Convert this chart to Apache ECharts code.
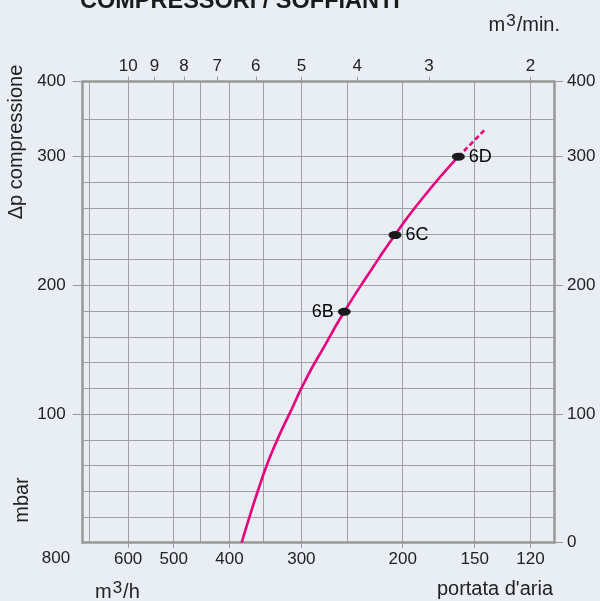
<!DOCTYPE html>
<html>
<head>
<meta charset="utf-8">
<script src="https://cdn.jsdelivr.net/npm/echarts@6/dist/echarts.min.js"></script>
<style>
html,body{margin:0;padding:0;background:#e9eef5;}
#chart{width:600px;height:601px;}
</style>
</head>
<body>
<div id="chart"></div>
<script>
// ---- data ----
const GRID_FLOW = [700, 600, 500, 450, 400, 350, 300, 250, 200, 150, 120];   // m3/h grid lines
const FLOW_TICKS = [600, 500, 400, 300, 200, 150, 120];                       // m3/h labels
const MIN_TICKS = [10, 9, 8, 7, 6, 5, 4, 3, 2];                               // m3/min labels
const CURVE_FLOW = [381, 368.4, 355.8, 343.5, 329.5, 313.8, 295.1, 272.9, 252.7, 228.9, 206.3, 184.8, 160.1];
const CURVE_P    = [0,   21.5,  42.3,  61.7,  81.1,  101.3, 126.4, 153.6, 179.5, 209.4, 239.1, 267.7, 300];
const DASH_FLOW = [160.1, 144.4];
const DASH_P    = [300, 335];
const POINT_NAMES = ['6B', '6C', '6D'];
const POINT_FLOW  = [252.7, 206.3, 160.1];
const POINT_P     = [179.5, 239.1, 300];
const FLOW_MIN = 109.2, FLOW_MAX = 719.6;

const FONT = "'Liberation Sans', Arial, Helvetica, sans-serif";
const TXT = '#222222';
const GRIDC = '#a0a0a0';
const BORDER = '#989898';
const PINK = '#e6007e';

const chart = echarts.init(document.getElementById('chart'), null, {renderer: 'canvas'});

const lab = (extra) => Object.assign({color: TXT, fontSize: 17, fontFamily: FONT}, extra || {});

const option = {
  backgroundColor: '#e9eef5',
  animation: false,
  grid: [
    {left: 82.7, right: 46, top: 156.7, bottom: 58.3},
    {left: 82.7, right: 46, top: 81.7, height: 75}
  ],
  xAxis: [
    { // 0: lower grid, vertical grid lines + bottom border
      gridIndex: 0, type: 'log', logBase: 10, inverse: true, min: FLOW_MIN, max: FLOW_MAX,
      position: 'bottom',
      axisLine: {show: true, lineStyle: {color: BORDER, width: 2.5}},
      axisTick: {show: false, customValues: GRID_FLOW},
      axisLabel: {show: false},
      splitLine: {show: true, lineStyle: {color: GRIDC, width: 1}}
    },
    { // 1: lower grid, m3/h labels
      gridIndex: 0, type: 'log', logBase: 10, inverse: true, min: FLOW_MIN, max: FLOW_MAX,
      position: 'bottom',
      axisLine: {show: false},
      axisTick: {show: true, inside: false, length: 5, customValues: FLOW_TICKS, lineStyle: {color: BORDER, width: 1}},
      axisLabel: lab({customValues: FLOW_TICKS, margin: 8}),
      splitLine: {show: false}
    },
    { // 2: upper grid, vertical lines + top border
      gridIndex: 1, type: 'log', logBase: 10, inverse: true, min: FLOW_MIN, max: FLOW_MAX,
      position: 'top',
      axisLine: {show: true, lineStyle: {color: BORDER, width: 2.5}},
      axisTick: {show: false, customValues: GRID_FLOW},
      axisLabel: {show: false},
      splitLine: {show: true, lineStyle: {color: GRIDC, width: 1}}
    },
    { // 3: upper grid, m3/min labels
      gridIndex: 1, type: 'log', logBase: 10, inverse: true, min: FLOW_MIN / 60, max: FLOW_MAX / 60,
      position: 'top',
      axisLine: {show: false},
      axisTick: {show: true, length: 5, customValues: MIN_TICKS, lineStyle: {color: BORDER, width: 1}},
      axisLabel: lab({customValues: MIN_TICKS, margin: 7}),
      splitLine: {show: false}
    }
  ],
  yAxis: [
    { // 0: lower grid lines, left border
      gridIndex: 0, type: 'value', min: 0, max: 300, interval: 20, position: 'left',
      axisLine: {show: true, lineStyle: {color: BORDER, width: 2.5}},
      axisTick: {show: false}, axisLabel: {show: false},
      splitLine: {show: true, lineStyle: {color: GRIDC, width: 1}}
    },
    { // 1: lower left labels
      gridIndex: 0, type: 'value', min: 0, max: 300, interval: 100, position: 'left',
      axisLine: {show: false},
      axisTick: {show: true, length: 10, lineStyle: {color: BORDER, width: 1}},
      axisLabel: lab({margin: 17, showMinLabel: false}),
      splitLine: {show: false}
    },
    { // 2: lower right border + labels
      gridIndex: 0, type: 'value', min: 0, max: 300, interval: 100, position: 'right',
      axisLine: {show: true, lineStyle: {color: BORDER, width: 2.5}},
      axisTick: {show: true, length: 9, lineStyle: {color: BORDER, width: 1}},
      axisLabel: lab({margin: 13}),
      splitLine: {show: false}
    },
    { // 3: upper grid lines, left border
      gridIndex: 1, type: 'value', min: 300, max: 400, interval: 50, position: 'left',
      axisLine: {show: true, lineStyle: {color: BORDER, width: 2.5}},
      axisTick: {show: false}, axisLabel: {show: false},
      splitLine: {show: true, lineStyle: {color: GRIDC, width: 1}}
    },
    { // 4: upper left label
      gridIndex: 1, type: 'value', min: 300, max: 400, interval: 100, position: 'left',
      axisLine: {show: false},
      axisTick: {show: true, length: 10, lineStyle: {color: BORDER, width: 1}},
      axisLabel: lab({margin: 17, showMinLabel: false}),
      splitLine: {show: false}
    },
    { // 5: upper right border + label
      gridIndex: 1, type: 'value', min: 300, max: 400, interval: 100, position: 'right',
      axisLine: {show: true, lineStyle: {color: BORDER, width: 2.5}},
      axisTick: {show: true, length: 9, lineStyle: {color: BORDER, width: 1}},
      axisLabel: lab({margin: 13, showMinLabel: false}),
      splitLine: {show: false}
    }
  ],
  series: [
    {
      type: 'line', xAxisIndex: 0, yAxisIndex: 0, smooth: 0.6, showSymbol: false, clip: false,
      data: CURVE_FLOW.map((q, i) => [q, CURVE_P[i]]),
      lineStyle: {color: PINK, width: 2.6}
    },
    {
      type: 'line', xAxisIndex: 2, yAxisIndex: 3, showSymbol: false, clip: false,
      data: DASH_FLOW.map((q, i) => [q, DASH_P[i]]),
      lineStyle: {color: PINK, width: 2.6, type: [5, 3]}
    },
    {
      type: 'scatter', xAxisIndex: 0, yAxisIndex: 0, clip: false,
      symbol: 'circle', symbolSize: [13, 8],
      itemStyle: {color: '#1a1a1a', opacity: 1},
      data: POINT_NAMES.map((n, i) => ({
        name: n, value: [POINT_FLOW[i], POINT_P[i]],
        label: {position: i === 0 ? 'left' : 'right'}
      })),
      label: {show: true, formatter: '{b}', color: '#000000', opacity: 1, fontSize: 18, fontFamily: FONT, distance: 4},
      z: 5
    }
  ],
  graphic: [
    {type: 'text', x: 80, y: 2, style: {text: 'COMPRESSORI / SOFFIANTI', font: 'bold 23.5px ' + FONT, fill: '#1a1a1a', textAlign: 'left', textVerticalAlign: 'middle'}},
    {type: 'text', x: 560, y: 25, style: {text: '{a|m}{s|3}{a|/min.}', textAlign: 'right', textVerticalAlign: 'middle',
      rich: {a: {fontSize: 20, fontFamily: FONT, fill: TXT, color: TXT}, s: {fontSize: 17, fontFamily: FONT, fill: TXT, color: TXT, padding: [0, 1, 7, 1]}}}},
    {type: 'text', x: 95, y: 592, style: {text: '{a|m}{s|3}{a|/h}', textAlign: 'left', textVerticalAlign: 'middle',
      rich: {a: {fontSize: 20, fontFamily: FONT, fill: TXT, color: TXT}, s: {fontSize: 17, fontFamily: FONT, fill: TXT, color: TXT, padding: [0, 1, 7, 1]}}}},
    {type: 'text', x: 553, y: 589, style: {text: "portata d'aria", font: '20px ' + FONT, fill: TXT, textAlign: 'right', textVerticalAlign: 'middle'}},
    {type: 'text', x: 16, y: 142, rotation: Math.PI / 2, style: {text: 'Δp compressione', font: '20px ' + FONT, fill: TXT, textAlign: 'center', textVerticalAlign: 'middle'}},
    {type: 'text', x: 22, y: 500, rotation: Math.PI / 2, style: {text: 'mbar', font: '20px ' + FONT, fill: TXT, textAlign: 'center', textVerticalAlign: 'middle'}},
    {type: 'text', x: 56, y: 558, style: {text: '800', font: '17px ' + FONT, fill: TXT, textAlign: 'center', textVerticalAlign: 'middle'}}
  ]
};
chart.setOption(option);
</script>
</body>
</html>
